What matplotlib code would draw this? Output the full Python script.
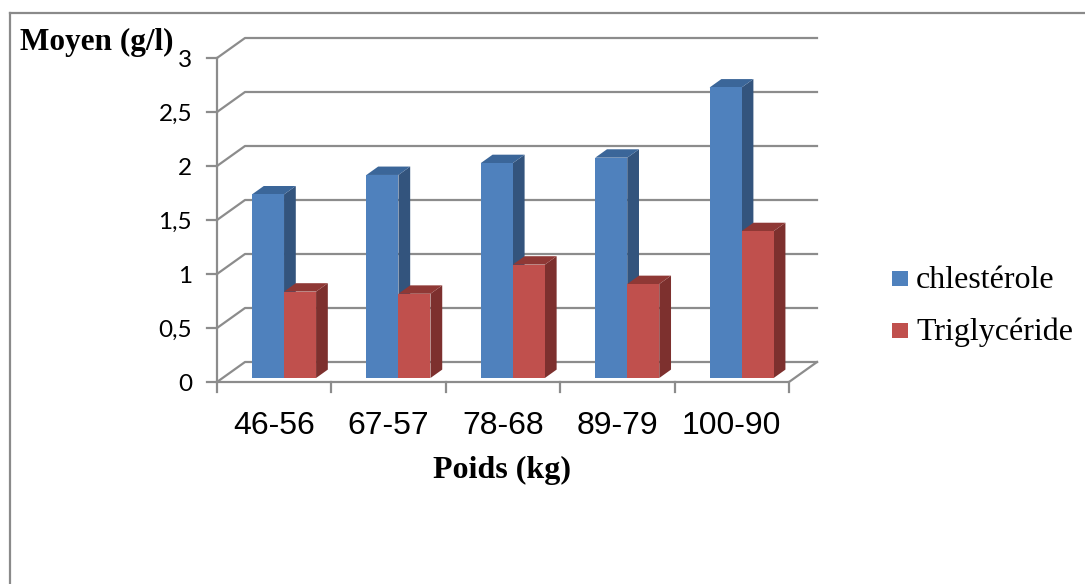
import matplotlib
matplotlib.use("Agg")
import matplotlib.pyplot as plt
from matplotlib.patches import Rectangle, Polygon
from matplotlib.lines import Line2D

# Data
categories = ["46-56", "67-57", "78-68", "89-79", "100-90"]
series_names = ["chlestérole", "Triglycéride"]
cholesterol = [1.70, 1.88, 1.99, 2.04, 2.69]
triglycerides = [0.80, 0.78, 1.05, 0.87, 1.36]
y_ticks = [0, 0.5, 1, 1.5, 2, 2.5, 3]
y_tick_labels = ["0", "0,5", "1", "1,5", "2", "2,5", "3"]

W, H = 1085, 584
fig = plt.figure(figsize=(W / 100, H / 100), dpi=100)
fig.patch.set_facecolor("white")


def fx(px):
    return px / W


def fy(py):
    return 1 - py / H


# Plot area (front plane of the 3-D box)
left_px, right_px, floor_px, top_px = 217, 789, 382, 58
ax = fig.add_axes([fx(left_px), fy(floor_px), fx(right_px - left_px),
                   (floor_px - top_px) / H])
n = len(categories)
ymax = 3
ax.set_xlim(0, n)
ax.set_ylim(0, ymax)
ax.axis("off")

px_x = (right_px - left_px) / n
px_y = (floor_px - top_px) / ymax
DX = 28 / px_x      # depth offset along x (data units)
DY = 20 / px_y      # depth offset along y (data units)

grid_c = "#8c8c8c"
lw = 1.6

# Back wall gridlines with the oblique run on the left wall
for v in y_ticks:
    ax.add_line(Line2D([0, DX, n + DX], [v, v + DY, v + DY],
                       color=grid_c, lw=lw, clip_on=False, zorder=1))
# Floor front and right edges
ax.add_line(Line2D([0, n, n + DX], [0, 0, DY], color=grid_c, lw=lw,
                   clip_on=False, zorder=1))
# Front vertical axis
ax.add_line(Line2D([0, 0], [0, ymax], color=grid_c, lw=lw, clip_on=False,
                   zorder=1))
# Tick marks
tick_x = 10 / px_x
tick_y = 10 / px_y
for v, lab in zip(y_ticks, y_tick_labels):
    ax.add_line(Line2D([-tick_x, 0], [v, v], color=grid_c, lw=lw,
                       clip_on=False, zorder=1))
    ax.text(-25 / px_x, v - 2.5 / px_y, lab, ha="right", va="center",
            fontsize=17.5, family="Lato", color="black")
for i in range(n + 1):
    ax.add_line(Line2D([i, i], [0, -tick_y], color=grid_c, lw=lw,
                       clip_on=False, zorder=1))
for i, lab in enumerate(categories):
    ax.text(i + 0.5, -52 / px_y, lab, ha="center", va="baseline",
            fontsize=23, family="Liberation Sans", color="black")

# 3-D bars
w = 0.28
center_shift = 0.037
d0, d1 = 0.2, 0.62
bx0, by0 = d0 * DX, d0 * DY
ddx, ddy = (d1 - d0) * DX, (d1 - d0) * DY

palettes = [
    ("#4f81bd", "#33547d", "#3b6699"),   # front, side, top
    ("#c0504d", "#7d302e", "#8f3835"),
]


def draw_bar(x, v, cols):
    front, side, top = cols
    x0 = x + bx0
    y0 = by0
    ax.add_patch(Polygon([(x0 + w, y0), (x0 + w + ddx, y0 + ddy),
                          (x0 + w + ddx, y0 + v + ddy), (x0 + w, y0 + v)],
                         closed=True, facecolor=side, edgecolor="none",
                         clip_on=False, zorder=3))
    ax.add_patch(Polygon([(x0, y0 + v), (x0 + w, y0 + v),
                          (x0 + w + ddx, y0 + v + ddy), (x0 + ddx, y0 + v + ddy)],
                         closed=True, facecolor=top, edgecolor="none",
                         clip_on=False, zorder=3))
    ax.add_patch(Rectangle((x0, y0), w, v, facecolor=front, edgecolor="none",
                           clip_on=False, zorder=3))


for i in range(n):
    base = i + 0.5 + center_shift - w
    draw_bar(base, cholesterol[i], palettes[0])
    draw_bar(base + w, triglycerides[i], palettes[1])

# Axis titles
fig.text(fx(20), fy(50), "Moyen (g/l)", ha="left", va="baseline",
         fontsize=22.5, fontweight="bold", family="Liberation Serif")
fig.text(fx(502), fy(478), "Poids (kg)", ha="center", va="baseline",
         fontsize=23, fontweight="bold", family="Liberation Serif")

# Legend
leg_y = [278, 330]
for name, cols, yc in zip(series_names, palettes, leg_y):
    fig.patches.append(Rectangle((fx(892), fy(yc + 7.5)), fx(16), 15 / H,
                                 facecolor=cols[0], edgecolor="none",
                                 transform=fig.transFigure))
    fig.text(fx(916), fy(yc + 10), name, ha="left", va="baseline",
             fontsize=23, family="Liberation Serif")

# Chart frame
frame_c = "#8a8a8a"
fig.add_artist(Line2D([fx(10), fx(10)], [fy(13), 0], color=frame_c, lw=1.6,
                      transform=fig.transFigure))
fig.add_artist(Line2D([fx(10), 1], [fy(13), fy(13)], color=frame_c, lw=1.6,
                      transform=fig.transFigure))

fig.savefig("out.png", dpi=100, facecolor="white")
